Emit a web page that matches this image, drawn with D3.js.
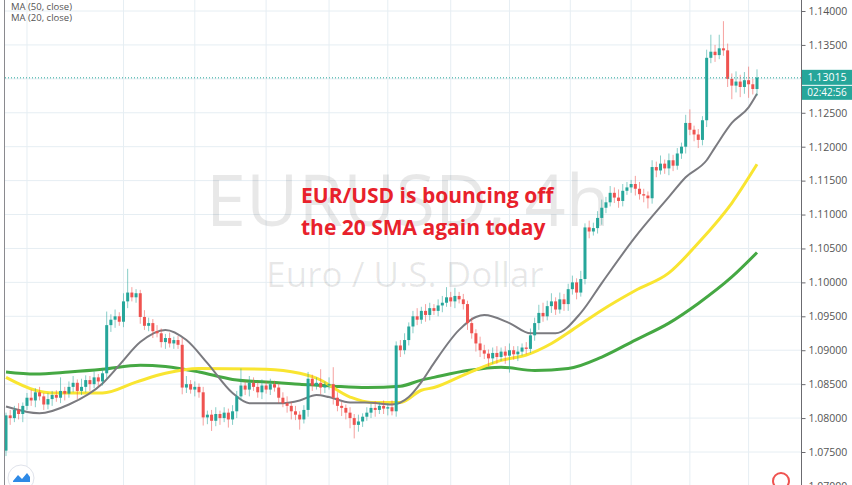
<!DOCTYPE html>
<html>
<head>
<meta charset="utf-8">
<script src="https://cdn.jsdelivr.net/npm/d3@7"></script>
<style>
  body { margin: 0; background: #fff; }
  text { font-family: "Open Sans", "Noto Sans", sans-serif; }
</style>
</head>
<body>
<svg id="chart" width="852" height="485"></svg>
<script>
// 4h candle closes (open = previous close)
var firstOpen = 1.0752;
var closes = [
  1.0804, 1.0800, 1.0812, 1.0806, 1.0818, 1.0830, 1.0826, 1.0838, 1.0832, 1.0820, 1.0828, 1.0834, 1.0830,
  1.0840, 1.0836, 1.0846, 1.0852, 1.0840, 1.0846, 1.0856, 1.0850, 1.0860, 1.0854, 1.0866,
  1.0937, 1.0945, 1.0950, 1.0942, 1.0972, 1.0985, 1.0978, 1.0984,
  1.0949, 1.0936, 1.0940, 1.0928, 1.0925, 1.0912, 1.0918, 1.0910, 1.0915, 1.0908,
  1.0845, 1.0850, 1.0842, 1.0846, 1.0838, 1.0801, 1.0805, 1.0796, 1.0806, 1.0800, 1.0808, 1.0798, 1.0810,
  1.0832, 1.0848, 1.0842, 1.0852, 1.0846, 1.0838, 1.0848, 1.0842, 1.0850, 1.0845,
  1.0830, 1.0822, 1.0818, 1.0810, 1.0805, 1.0798, 1.0812,
  1.0858, 1.0848, 1.0852, 1.0845, 1.0848, 1.0850, 1.0830, 1.0818, 1.0815,
  1.0808, 1.0800, 1.0790, 1.0795, 1.0802, 1.0808,
  1.0815, 1.0812, 1.0818, 1.0814, 1.0816, 1.0810,
  1.0907, 1.0900, 1.0915, 1.0935,
  1.0950, 1.0945, 1.0958, 1.0952, 1.0962, 1.0958, 1.0966,
  1.0970, 1.0978, 1.0972, 1.0980, 1.0975, 1.0968,
  1.0940, 1.0925, 1.0910, 1.0900, 1.0895,
  1.0888, 1.0896, 1.0890, 1.0898, 1.0892, 1.0900, 1.0894, 1.0898, 1.0904, 1.0902,
  1.0922, 1.0940, 1.0955,
  1.0950, 1.0965, 1.0972, 1.0960, 1.0975, 1.0968,
  1.0990, 1.1000, 1.0985, 1.1005,
  1.1081, 1.1075, 1.1080, 1.1095, 1.1110, 1.1118,
  1.1132, 1.1125, 1.1120, 1.1135, 1.1140, 1.1145, 1.1138, 1.1130, 1.1128, 1.1124,
  1.1170, 1.1165, 1.1175, 1.1168, 1.1180, 1.1172,
  1.1190, 1.1200, 1.1235, 1.1225, 1.1218, 1.1210, 1.1239,
  1.1331, 1.1340, 1.1335, 1.1345, 1.1342,
  1.1300, 1.1290, 1.1296, 1.1288, 1.1298, 1.1292, 1.1285, 1.1302
];
// wick lengths above/below the body, in pips
var upWick = [
  4, 8, 6, 10, 5, 7, 12, 6, 8, 5, 9, 6, 7,
  20, 6, 8, 10, 5, 12, 7, 6, 9, 5, 8,
  20, 8, 10, 6, 12, 35, 8, 6,
  5, 10, 8, 6, 9, 7, 6, 8, 5, 6,
  10, 12, 6, 8, 5, 8, 6, 7, 10, 5, 8, 6, 9,
  8, 25, 6, 10, 8, 7, 9, 6, 8, 5,
  6, 8, 10, 6, 8, 5, 7,
  10, 6, 8, 20, 6, 10, 25, 8, 6,
  5, 8, 6, 10, 5, 8,
  6, 10, 5, 8, 6, 10,
  6, 8, 10, 6,
  8, 12, 6, 10, 8, 6, 9,
  10, 15, 8, 12, 6, 8,
  5, 8, 6, 10, 8,
  6, 8, 10, 6, 8, 10, 6, 8, 6, 8,
  10, 8, 12,
  15, 8, 12, 6, 10, 8,
  8, 10, 6, 12,
  6, 10, 8, 10, 12, 8,
  10, 8, 12, 10, 8, 6, 12, 10, 8, 6,
  10, 8, 12, 6, 10, 8,
  8, 6, 12, 20, 6, 8, 6,
  12, 25, 10, 20, 40,
  10, 8, 15, 10, 12, 20, 8, 12
];
var downWick = [
  8, 10, 6, 8, 12, 6, 8, 10, 6, 8, 7, 10, 6,
  8, 10, 6, 8, 12, 6, 8, 10, 6, 8, 6,
  8, 10, 12, 6, 8, 10, 6, 8,
  10, 6, 8, 10, 6, 8, 10, 6, 8, 6,
  10, 8, 6, 10, 8, 12, 10, 15, 8, 10, 6, 12, 8,
  10, 6, 8, 10, 6, 8, 10, 6, 8, 6,
  8, 6, 10, 12, 8, 15, 6,
  10, 8, 6, 10, 8, 6, 10, 8, 12,
  10, 15, 20, 10, 8, 6,
  8, 10, 6, 8, 10, 6,
  8, 10, 6, 8,
  10, 8, 6, 10, 8, 6, 8,
  10, 6, 8, 10, 6, 8,
  10, 8, 12, 10, 8,
  12, 8, 10, 6, 12, 25, 8, 10, 6, 8,
  6, 8, 10,
  8, 6, 10, 8, 6, 10,
  10, 8, 10, 6,
  8, 10, 6, 8, 10, 8,
  6, 8, 10, 8, 6, 8, 10, 8, 10, 15,
  8, 10, 6, 8, 10, 8,
  6, 8, 10, 8, 10, 12, 8,
  10, 8, 10, 6, 8,
  12, 20, 10, 15, 10, 20, 8, 10
];

// moving averages, read at [candle index, price]
var ma20 = [[0,1.0817],[8,1.0807],[15,1.0820],[23,1.0851],[27,1.0878],[32,1.0912],[38,1.0930],[43,1.0915],[48,1.0881],[54,1.0837],[58,1.0822],[66,1.0822],[70,1.0826],[74,1.0834],[77,1.0831],[82,1.0823],[86,1.0823],[92,1.0820],[96,1.0831],[99,1.0853],[102,1.0881],[108,1.0930],[112,1.0949],[114,1.0952],[120,1.0940],[125,1.0925],[131,1.0925],[137,1.0955],[142,1.0999],[150,1.1067],[158,1.1126],[162,1.1155],[167,1.1180],[169,1.1199],[173,1.1235],[177,1.1258],[179,1.1278]];
var ma50 = [[0,1.0860],[7,1.0841],[11,1.0837],[23,1.0837],[31,1.0853],[38,1.0866],[46,1.0873],[62,1.0872],[70,1.0866],[74,1.0859],[82,1.0831],[87,1.0823],[94,1.0823],[99,1.0841],[102,1.0845],[110,1.0866],[118,1.0885],[124,1.0893],[130,1.0910],[135,1.0930],[142,1.0959],[150,1.0988],[158,1.1014],[165,1.1058],[173,1.1117],[179,1.1174]];
var ma100 = [[0,1.0868],[7,1.0865],[15,1.0868],[23,1.0872],[32,1.0878],[38,1.0876],[46,1.0868],[54,1.0857],[62,1.0853],[70,1.0850],[78,1.0847],[86,1.0845],[94,1.0847],[99,1.0856],[102,1.0860],[110,1.0870],[118,1.0875],[126,1.0870],[134,1.0873],[142,1.0890],[150,1.0915],[158,1.0940],[165,1.0969],[173,1.1008],[179,1.1044]];

var priceTicks = [1.075, 1.08, 1.085, 1.09, 1.095, 1.10, 1.105, 1.11, 1.115, 1.12, 1.125, 1.13, 1.135, 1.14];
var timeGrid = [5, 28, 45, 62, 77, 91, 106, 120, 134.5, 149, 163, 177];
var lastPrice = 1.13015;
var countdown = "02:42:56";

var svg = d3.select("#chart");
var width = 852, height = 485;
var axisX = 801;

var x = d3.scaleLinear().domain([0, closes.length - 1]).range([6, 757]);
var y = d3.scaleLinear().domain([1.075, 1.14]).range([452, 11]);

// build candles
var candles = closes.map(function(c, i) {
  var o = i === 0 ? firstOpen : closes[i - 1];
  return {
    i: i, o: o, c: c,
    h: Math.max(o, c) + upWick[i] / 10000,
    l: Math.min(o, c) - downWick[i] / 10000
  };
});

// grid
svg.append("g").selectAll("line").data(priceTicks).enter().append("line")
  .attr("x1", 5).attr("x2", axisX)
  .attr("y1", function(d) { return y(d); }).attr("y2", function(d) { return y(d); })
  .attr("stroke", "#e6eef3").attr("stroke-width", 1);
svg.append("g").selectAll("line").data(timeGrid).enter().append("line")
  .attr("x1", function(d) { return x(d); }).attr("x2", function(d) { return x(d); })
  .attr("y1", 0).attr("y2", height)
  .attr("stroke", "#e6eef3").attr("stroke-width", 1);

// watermark
svg.append("text").attr("x", 408).attr("y", 226).attr("text-anchor", "middle")
  .attr("font-size", 72).attr("fill", "#000").attr("fill-opacity", 0.09)
  .text("EURUSD, 4h");
svg.append("text").attr("x", 405).attr("y", 287).attr("text-anchor", "middle")
  .attr("font-size", 35).attr("fill", "#000").attr("fill-opacity", 0.09)
  .text("Euro / U.S. Dollar");

// moving averages
var line = d3.line()
  .x(function(d) { return x(d[0]); })
  .y(function(d) { return y(d[1]); })
  .curve(d3.curveMonotoneX);
svg.append("path").attr("d", line(ma100)).attr("fill", "none").attr("stroke", "#45a843").attr("stroke-width", 3);
svg.append("path").attr("d", line(ma50)).attr("fill", "none").attr("stroke", "#f9e531").attr("stroke-width", 3);
svg.append("path").attr("d", line(ma20)).attr("fill", "none").attr("stroke", "#7b7b80").attr("stroke-width", 2);

// candles
var up = "#26a69a", down = "#ef5350";
var g = svg.append("g");
g.selectAll(".wick").data(candles).enter().append("line")
  .attr("class", "wick")
  .attr("x1", function(d) { return x(d.i); }).attr("x2", function(d) { return x(d.i); })
  .attr("y1", function(d) { return y(d.h); }).attr("y2", function(d) { return y(d.l); })
  .attr("stroke", function(d) { return d.c >= d.o ? up : down; })
  .attr("stroke-opacity", 0.55).attr("stroke-width", 1);
g.selectAll(".body").data(candles).enter().append("rect")
  .attr("class", "body")
  .attr("x", function(d) { return x(d.i) - 1.5; })
  .attr("width", 3)
  .attr("y", function(d) { return y(Math.max(d.o, d.c)); })
  .attr("height", function(d) { return Math.max(1, Math.abs(y(d.o) - y(d.c))); })
  .attr("fill", function(d) { return d.c >= d.o ? up : down; });

// last price line
svg.append("line").attr("x1", 5).attr("x2", axisX)
  .attr("y1", y(lastPrice)).attr("y2", y(lastPrice))
  .attr("stroke", "#26a69a").attr("stroke-width", 1).attr("stroke-dasharray", "1,2");

// frame lines
svg.append("line").attr("x1", 4.5).attr("x2", 4.5).attr("y1", 0).attr("y2", height)
  .attr("stroke", "#8a8a8f").attr("stroke-width", 1);
svg.append("rect").attr("x", axisX).attr("y", 0).attr("width", width - axisX).attr("height", height).attr("fill", "#fff");
svg.append("line").attr("x1", axisX + 0.5).attr("x2", axisX + 0.5).attr("y1", 0).attr("y2", height)
  .attr("stroke", "#6b6b70").attr("stroke-width", 1);

// price axis
var axis = svg.append("g").attr("transform", "translate(" + (axisX + 0.5) + ",0)")
  .call(d3.axisRight(y).tickValues(priceTicks.concat([1.07])).tickSize(4)
    .tickFormat(function(d) { return d.toFixed(5); }));
axis.select(".domain").remove();
axis.selectAll("line").attr("stroke", "#6b6b70");
axis.selectAll("text").attr("fill", "#555").attr("font-size", 10.5).attr("x", 7);

// last price tag
svg.append("rect").attr("x", axisX + 1).attr("y", y(lastPrice) - 8).attr("width", 50).attr("height", 15).attr("fill", "#26a69a");
svg.append("text").attr("x", axisX + 26).attr("y", y(lastPrice) + 3.5).attr("text-anchor", "middle").attr("fill", "#fff").attr("font-size", 10.5).text(lastPrice.toFixed(5));
svg.append("rect").attr("x", axisX + 1).attr("y", y(lastPrice) + 8).attr("width", 50).attr("height", 14).attr("fill", "#26a69a");
svg.append("text").attr("x", axisX + 26).attr("y", y(lastPrice) + 18.5).attr("text-anchor", "middle").attr("fill", "#fff").attr("font-size", 10).text(countdown);

// legend
svg.append("text").attr("x", 11).attr("y", 10).attr("font-size", 9.5).attr("fill", "#555").text("MA (50, close)");
svg.append("text").attr("x", 11).attr("y", 21).attr("font-size", 9.5).attr("fill", "#555").text("MA (20, close)");

// annotation
var note = svg.append("text").attr("font-size", 21).attr("font-weight", "bold").attr("fill", "#e8212b");
note.append("tspan").attr("x", 301).attr("y", 203).text("EUR/USD is bouncing off");
note.append("tspan").attr("x", 301).attr("y", 235).text("the 20 SMA again today");

// small icons at bottom
svg.append("circle").attr("cx", 21).attr("cy", 478).attr("r", 13).attr("fill", "#fff").attr("stroke", "#e0e3eb");
svg.append("path").attr("d", "M13,481 L18,475 L22,479 L27,473 L30,477 L30,482 L13,482 Z").attr("fill", "#2e8ae6");
svg.append("circle").attr("cx", 781).attr("cy", 481).attr("r", 8).attr("fill", "#fff").attr("stroke", "#ef5350").attr("stroke-width", 2);
</script>
</body>
</html>
